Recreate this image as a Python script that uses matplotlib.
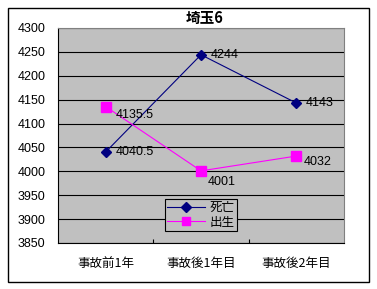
import matplotlib.pyplot as plt
from matplotlib.patches import Rectangle

categories = ["事故前1年", "事故後1年目", "事故後2年目"]
deaths = [4040.5, 4244, 4143]
births = [4135.5, 4001, 4032]
death_name = "死亡"
birth_name = "出生"
title = "埼玉6"

jp = ["Noto Sans CJK JP", "DejaVu Sans"]
num_font = "Liberation Sans"

fig = plt.figure(figsize=(3.77, 2.89), dpi=100)
W, H = 377, 289
# outer chart border
fig.patches.append(Rectangle((7.5 / W, 1 - 281.5 / H), 361 / W, 274 / H,
                             transform=fig.transFigure, fill=False,
                             edgecolor="black", lw=1.0))

ax = fig.add_axes([58 / W, 1 - 243 / H, 286 / W, 215 / H])
ax.set_facecolor("#C0C0C0")

x = list(range(len(categories)))
ax.plot(x, deaths, color="#000080", lw=0.8, marker="D", ms=5.5,
        markerfacecolor="#000080", markeredgecolor="#000080", label=death_name, zorder=3)
ax.plot(x, births, color="#FF00FF", lw=0.8, marker="s", ms=6.5,
        markerfacecolor="#FF00FF", markeredgecolor="#FF00FF", label=birth_name, zorder=3)

def fmt(v):
    return str(int(v)) if v == int(v) else str(v)

death_off = [(7, 0), (7, 0), (7, 0)]
birth_off = [(7, -6), (5, -8), (5, -4)]
for i, v in enumerate(deaths):
    ax.annotate(fmt(v), (x[i], v), xytext=death_off[i], textcoords="offset points",
                va="center", ha="left", fontsize=9, family=num_font)
for i, v in enumerate(births):
    ax.annotate(fmt(v), (x[i], v), xytext=birth_off[i], textcoords="offset points",
                va="center", ha="left", fontsize=9, family=num_font)

ax.set_xlim(-0.5, 2.5)
ax.set_ylim(3850, 4300)
ax.set_yticks(range(3850, 4301, 50))
ax.yaxis.grid(True, color="black", lw=0.8)
ax.set_axisbelow(True)
ax.set_xticks([0.5, 1.5])
ax.set_xticks(x, minor=True)
ax.set_xticklabels([])
ax.set_xticklabels(categories, minor=True, family=jp, fontsize=9)
ax.tick_params(axis="x", which="major", direction="in", length=3, color="black")
ax.tick_params(axis="x", which="minor", length=0, pad=10)
ax.tick_params(axis="y", length=0, pad=9, labelsize=9)
for lab in ax.get_yticklabels():
    lab.set_family(num_font)

ax.spines["top"].set_color("#808080")
ax.spines["right"].set_color("#808080")
ax.spines["left"].set_color("black")
ax.spines["bottom"].set_color("black")

leg = ax.legend(loc="center", bbox_to_anchor=(201 / W, 1 - 215 / H),
                bbox_transform=fig.transFigure, prop={"family": jp, "size": 9},
                frameon=True, fancybox=False, edgecolor="black", facecolor="#C0C0C0",
                framealpha=1, handlelength=3, borderpad=0.2, labelspacing=0.1,
                handletextpad=0.4, borderaxespad=0, markerscale=0.85)
leg.get_frame().set_linewidth(0.8)

fig.text(205 / W, 1 - 18 / H, title, ha="center", va="center",
         family=jp, fontsize=10.5, fontweight="bold")

fig.savefig("out.png", dpi=100)
